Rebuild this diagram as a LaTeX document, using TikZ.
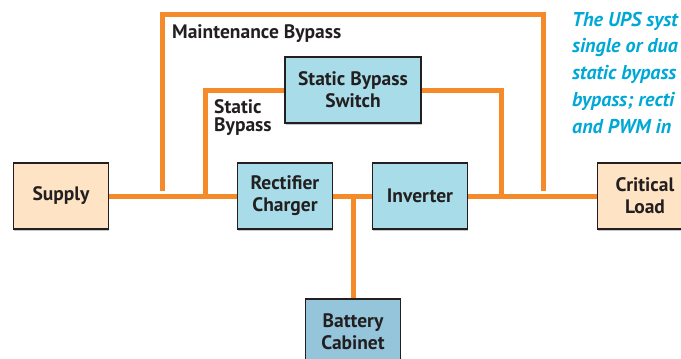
\documentclass[tikz,border=0pt]{standalone}
\usepackage{fontspec}
\setmainfont{PT Sans}
\usetikzlibrary{shadows}

\definecolor{pipe}{HTML}{F58A2A}
\definecolor{peach}{HTML}{FEE3C4}
\definecolor{aqua}{HTML}{A7DCE8}
\definecolor{steel}{HTML}{94C5DA}
\definecolor{inkdark}{HTML}{231F20}
\definecolor{notecyan}{HTML}{00A8D6}

\newcommand{\labelfont}{\bfseries\fontsize{19.5}{22}\selectfont}

\begin{document}
\begin{tikzpicture}[x=1pt,y=-1pt,
    unitbox/.style={draw=inkdark, line width=1.2pt, minimum width=95pt, minimum height=66pt,
        inner sep=0pt, align=center, font=\labelfont, text=inkdark,
        drop shadow={shadow xshift=0.6pt, shadow yshift=-1.6pt, fill=black!22, opacity=1}},
    pipeline/.style={draw=pipe, line width=5pt},
    tag/.style={font=\labelfont, text=inkdark, inner sep=0pt, align=left}]

    % Picture frame (reference is cut at the right and bottom)
    \useasboundingbox (0,0) rectangle (681,359);
    \clip (0,0) rectangle (681,359);

    % Units on the main path
    \node[unitbox, fill=peach] (supply) at (61,196) {Supply};
    \node[unitbox, fill=aqua] (rect) at (285,196) {Rectifier\\Charger};
    \node[unitbox, fill=aqua] (inv) at (420,196) {Inverter};
    \node[unitbox, fill=peach] (load) at (645,196) {Critical\\Load};

    % Static bypass switch and battery
    \node[unitbox, fill=aqua, minimum width=136pt] (sbs) at (353,90) {Static Bypass\\Switch};
    \node[unitbox, fill=steel] (batt) at (353,332) {Battery\\Cabinet};

    % Junction points on the main line
    \coordinate (mbL) at (162,191);
    \coordinate (mbR) at (543,191);
    \coordinate (mbTop) at (352,14);
    \coordinate (sbL) at (205,196);
    \coordinate (sbR) at (501,196);
    \coordinate (bj) at (353,196);

    % Main power path
    \draw[pipeline] (supply.east) -- (rect.west);
    \draw[pipeline] (rect.east) -- (inv.west);
    \draw[pipeline] (inv.east) -- (load.west);

    % Battery feed
    \draw[pipeline] (bj) ++(0,-2.5) -- (batt.north);

    % Static bypass loop
    \draw[pipeline] (sbL) |- (sbs.west);
    \draw[pipeline] (sbs.east) -| (sbR);

    % Maintenance bypass loop
    \draw[pipeline] (mbL) |- (mbTop) -| (mbR);

    % Path labels (base = last line)
    \node[tag, anchor=base west] (mblabel) at (172,38) {Maintenance Bypass};
    \node[tag, anchor=base west] (sblabel) at (214,131.5) {Static\\[-4pt]Bypass};

    % Side note (cut by the frame)
    \node[anchor=base west, inner sep=0pt, align=left, text=notecyan,
        font=\bfseries\itshape\fontsize{20}{26.7}\selectfont] (note) at (572,133)
        {The UPS syst\\single or dua\\static bypass\\bypass; recti\\and PWM in};

\end{tikzpicture}
\end{document}
